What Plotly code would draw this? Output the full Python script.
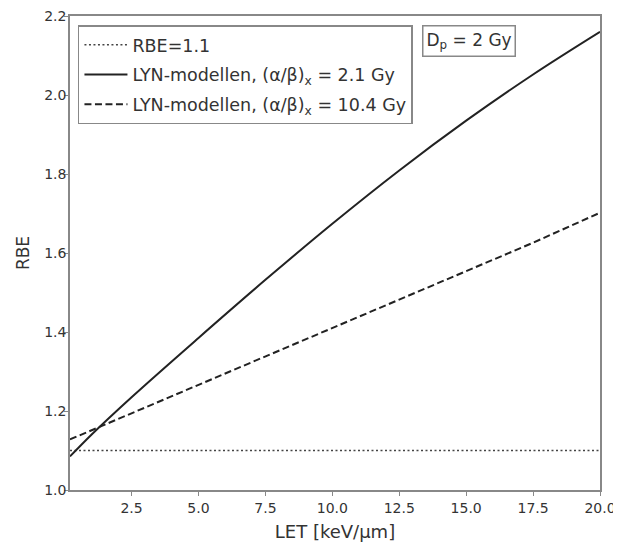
import plotly.graph_objects as go

# LET values (keV/µm)
let_vals = [0.2, 1.0, 2.5, 5.0, 7.5, 10.0, 12.5, 15.0, 17.5, 20.0]
# RBE for LYN model (alpha/beta)_x = 2.1 Gy
rbe_ab21 = [1.085, 1.140, 1.235, 1.385, 1.532, 1.674, 1.809, 1.935, 2.052, 2.160]
# RBE for LYN model (alpha/beta)_x = 10.4 Gy
rbe_ab104 = [1.128, 1.151, 1.194, 1.266, 1.338, 1.410, 1.482, 1.554, 1.626, 1.702]
# constant RBE
rbe_const_x = [0.2, 20.0]
rbe_const = [1.1, 1.1]

x_ticks = [2.5, 5.0, 7.5, 10.0, 12.5, 15.0, 17.5, 20.0]
x_ticktext = ["2.5", "5.0", "7.5", "10.0", "12.5", "15.0", "17.5", "20.0"]
y_ticks = [1.0, 1.2, 1.4, 1.6, 1.8, 2.0, 2.2]
y_ticktext = ["1.0", "1.2", "1.4", "1.6", "1.8", "2.0", "2.2"]

names = ["RBE=1.1",
         "LYN-modellen, (α/β)<sub>x</sub> = 2.1 Gy",
         "LYN-modellen, (α/β)<sub>x</sub> = 10.4 Gy"]

FONT = "DejaVu Sans"
TXT = "#333333"
AX = "#888888"

fig = go.Figure()
fig.add_trace(go.Scatter(x=rbe_const_x, y=rbe_const, mode="lines", name=names[0],
                         legendgroup="a",
                         line=dict(color="#444444", width=1.5, dash="2px,2.5px")))
fig.add_trace(go.Scatter(x=let_vals, y=rbe_ab21, mode="lines", name=names[1],
                         legendgroup="b",
                         line=dict(color="#222222", width=2, shape="spline")))
fig.add_trace(go.Scatter(x=let_vals, y=rbe_ab104, mode="lines", name=names[2],
                         legendgroup="c",
                         line=dict(color="#222222", width=2, dash="7px,3.5px")))

axis_common = dict(showline=True, linecolor=AX, linewidth=1.5, mirror=True,
                   ticks="outside", ticklen=4, tickcolor=AX, tickwidth=1,
                   showgrid=False, zeroline=False, automargin=False,
                   ticklabeloverflow="allow",
                   tickfont=dict(family=FONT, size=14, color=TXT))

fig.update_layout(
    width=613, height=534,
    margin=dict(l=62, r=21, t=8, b=52),
    paper_bgcolor="white", plot_bgcolor="white",
    font=dict(family=FONT, color=TXT),
    xaxis=dict(range=[0.2, 20.0], tickvals=x_ticks, ticktext=x_ticktext,
               ticklabelstandoff=0,
               title=dict(text="LET [keV/µm]", font=dict(family=FONT, size=18, color=TXT), standoff=15),
               **axis_common),
    yaxis=dict(range=[1.0, 2.2], tickvals=y_ticks, ticktext=y_ticktext,
               ticklabelstandoff=-5,
               title=dict(text="RBE", font=dict(family=FONT, size=17, color=TXT), standoff=10),
               **axis_common),
    legend=dict(x=0.015, y=0.98, xanchor="left", yanchor="top",
                bgcolor="white", bordercolor=AX, borderwidth=1.5,
                font=dict(family=FONT, size=17.5, color=TXT),
                itemwidth=43,
                tracegroupgap=4, traceorder="grouped"),
    showlegend=True,
    annotations=[dict(x=0.664, y=0.98, xref="paper", yref="paper",
                      xanchor="left", yanchor="top",
                      text="D<sub>p</sub> = 2 Gy", showarrow=False,
                      font=dict(family=FONT, size=17, color=TXT),
                      bordercolor=AX, borderwidth=1.5, borderpad=3,
                      bgcolor="white")],
)

fig.write_html("out.html")
